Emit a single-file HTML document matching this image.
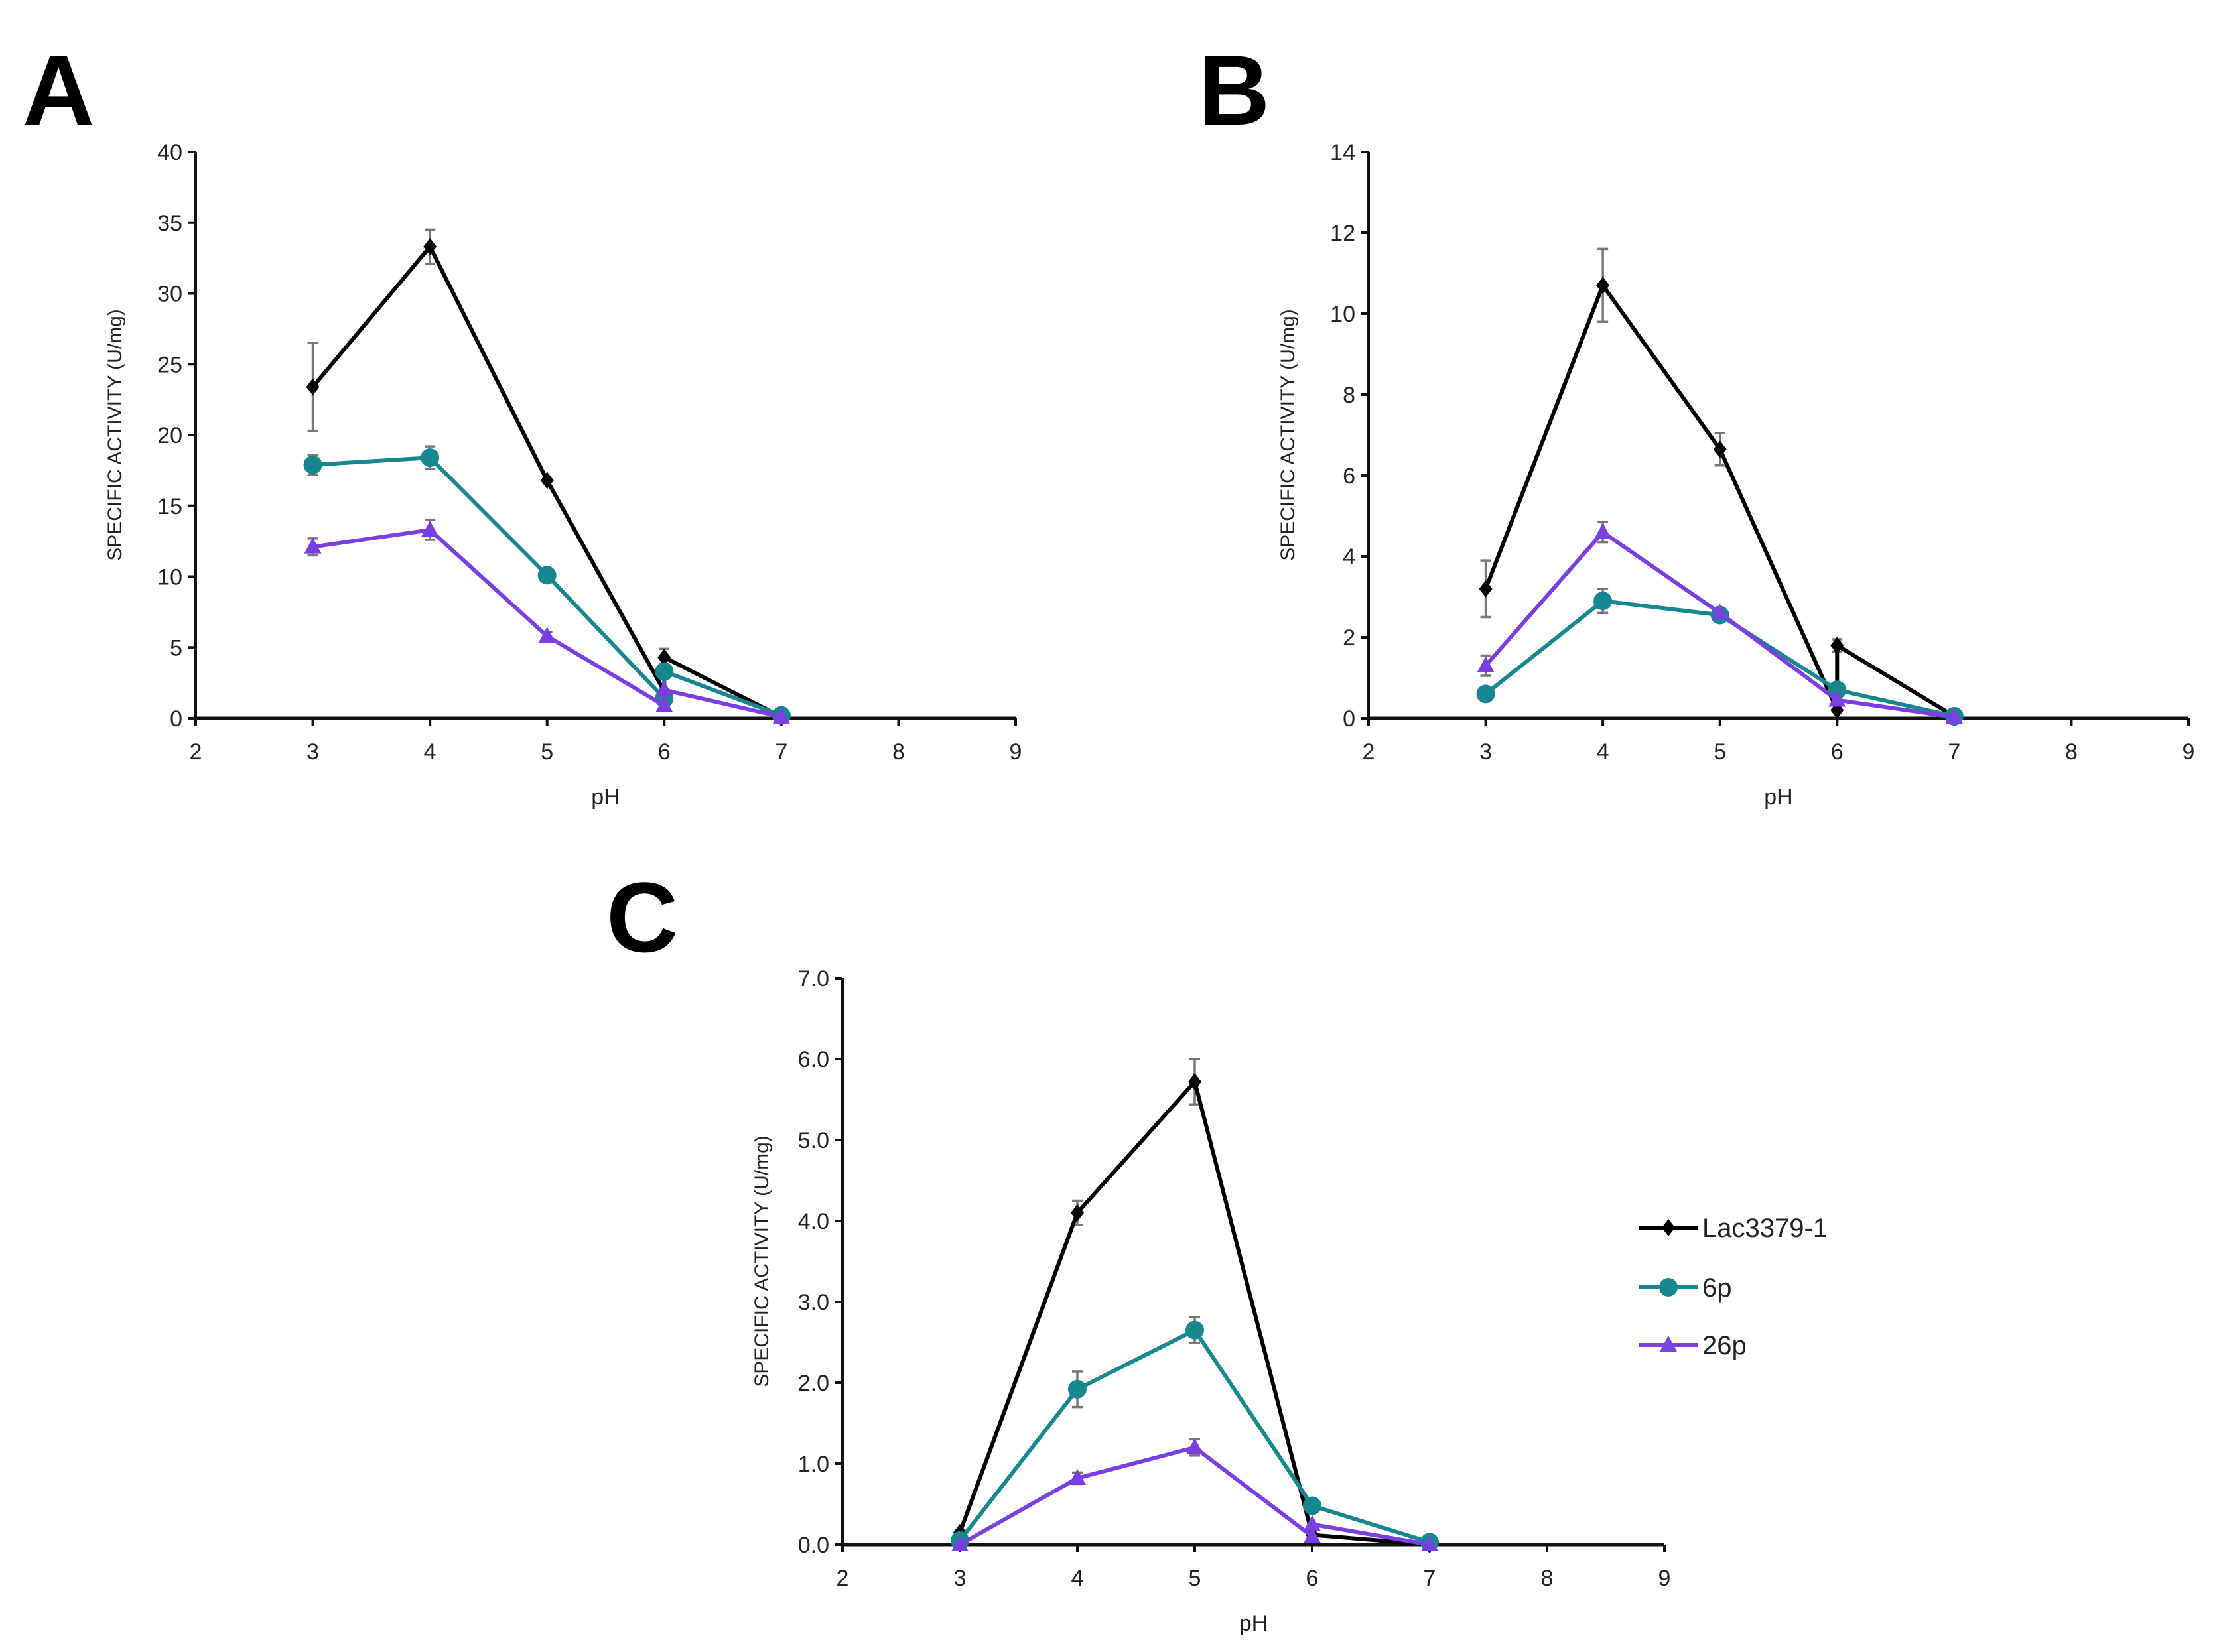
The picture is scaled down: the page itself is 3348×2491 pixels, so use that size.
<!DOCTYPE html>
<html><head><meta charset="utf-8"><style>
html,body{margin:0;padding:0;background:#fff}
svg{display:block}
text{font-family:"Liberation Sans Narrow","Liberation Sans",sans-serif;fill:#222}
</style></head><body>
<svg id="fig" xmlns="http://www.w3.org/2000/svg" width="3348" height="2491" viewBox="0 0 3348 2491"></svg>
<script>
// Panel A data
const xA_lac=[3,4,5,6,6,7]; const yA_lac=[23.4,33.3,16.8,1.9,4.3,0.1]; const eA_lac=[3.1,1.2,0,0,0.6,0];
const xA_6p=[3,4,5,6,6,7]; const yA_6p=[17.9,18.4,10.1,1.4,3.3,0.2]; const eA_6p=[0.7,0.8,0.3,0,0.3,0];
const xA_26p=[3,4,5,6,6,7]; const yA_26p=[12.1,13.3,5.8,0.9,2.0,0.1]; const eA_26p=[0.6,0.7,0.3,0,0,0];
// Panel B data
const xB_lac=[3,4,5,6,6,7]; const yB_lac=[3.2,10.7,6.65,0.2,1.8,0.05]; const eB_lac=[0.7,0.9,0.4,0,0.15,0];
const xB_6p=[3,4,5,6,7]; const yB_6p=[0.6,2.9,2.55,0.7,0.05]; const eB_6p=[0,0.3,0.1,0,0];
const xB_26p=[3,4,5,6,7]; const yB_26p=[1.3,4.6,2.6,0.45,0.03]; const eB_26p=[0.25,0.25,0,0,0];
// Panel C data
const xC_lac=[3,4,5,6,7]; const yC_lac=[0.15,4.1,5.72,0.12,0.0]; const eC_lac=[0,0.15,0.28,0,0];
const xC_6p=[3,4,5,6,7]; const yC_6p=[0.05,1.92,2.65,0.48,0.03]; const eC_6p=[0,0.22,0.16,0,0];
const xC_26p=[3,4,5,6,6,7]; const yC_26p=[0.0,0.82,1.2,0.1,0.25,0.0]; const eC_26p=[0,0.07,0.1,0,0,0];
const xTicks=[2,3,4,5,6,7,8,9];
const yTicksA=[0,5,10,15,20,25,30,35,40];
const yTicksB=[0,2,4,6,8,10,12,14];
const yTicksC=[0,1,2,3,4,5,6,7];
const seriesNames=["Lac3379-1","6p","26p"];

const NS="http://www.w3.org/2000/svg";
const svg=document.getElementById('fig');
function mk(tag,attrs,parent,txt){const e=document.createElementNS(NS,tag);for(const k in attrs)e.setAttribute(k,attrs[k]);if(txt!==undefined)e.textContent=txt;(parent||svg).appendChild(e);return e;}
const COL={lac:"#000000",p6:"#16868f",p26:"#7a3fe0"};

function marker(g,kind,cx,cy,col){
  let m;
  if(kind==='diamond'){m=mk('polygon',{points:`${cx},${cy-13} ${cx+10},${cy} ${cx},${cy+13} ${cx-10},${cy}`,fill:col},g);}
  else if(kind==='circle'){m=mk('circle',{cx:cx,cy:cy,r:14,fill:col},g);}
  else {m=mk('polygon',{points:`${cx},${cy-14} ${cx+13},${cy+10} ${cx-13},${cy+10}`,fill:col},g);}
  
  
}

function panel(o){
  const g=mk('g',{});
  
  
  const sx=v=>o.x0+(v-2)*(o.x1-o.x0)/7;
  const sy=v=>o.y0-(v)*(o.y0-o.y1)/o.ymax;
  const L=mk('text',{x:o.lx,y:o.ly,'font-size':150,'font-weight':'bold',style:'font-family:"Liberation Sans",sans-serif;fill:#000'},g,o.letter);
  
  
  const ya=mk('line',{x1:o.x0,y1:o.y1,x2:o.x0,y2:o.y0,stroke:'#111','stroke-width':4},g);
  
  const xa=mk('line',{x1:o.x0,y1:o.y0,x2:o.x1,y2:o.y0,stroke:'#111','stroke-width':5},g);
  
  o.yt.forEach(v=>{
    mk('line',{x1:o.x0-11,y1:sy(v),x2:o.x0,y2:sy(v),stroke:'#111','stroke-width':4},g);
    const t=mk('text',{x:o.x0-20,y:sy(v)+12,'font-size':34,'text-anchor':'end'},g,o.fmt(v));
    
  });
  xTicks.forEach(v=>{
    mk('line',{x1:sx(v),y1:o.y0,x2:sx(v),y2:o.y0+11,stroke:'#111','stroke-width':4},g);
    const t=mk('text',{x:sx(v),y:o.y0+62,'font-size':34,'text-anchor':'middle'},g,String(v));
    
  });
  const yc=(o.y0+o.y1)/2, xt=o.x0-112;
  const yt=mk('text',{x:xt,y:yc,'font-size':30,'text-anchor':'middle',transform:`rotate(-90 ${xt} ${yc})`,style:'font-family:"Liberation Sans",sans-serif;fill:#222'},g,'SPECIFIC ACTIVITY (U/mg)');
  
  const xtl=mk('text',{x:(o.x0+o.x1)/2,y:o.y0+130,'font-size':34,'text-anchor':'middle'},g,'pH');
  
  o.series.forEach(s=>{
    const sg=mk('g',{},g);
    
    s.e.forEach((e,i)=>{ if(e>0){
      const cx=sx(s.x[i]),a=sy(s.y[i]+e),b=sy(s.y[i]-e);
      mk('line',{x1:cx,y1:a,x2:cx,y2:b,stroke:'#777','stroke-width':3.5},sg);
      mk('line',{x1:cx-8,y1:a,x2:cx+8,y2:a,stroke:'#777','stroke-width':3.5},sg);
      mk('line',{x1:cx-8,y1:b,x2:cx+8,y2:b,stroke:'#777','stroke-width':3.5},sg);
    }});
    const pts=s.x.map((v,i)=>sx(v)+','+sy(s.y[i])).join(' ');
    const pl=mk('polyline',{points:pts,fill:'none',stroke:s.col,'stroke-width':6,'stroke-linejoin':'round'},sg);
    
    s.x.forEach((v,i)=>marker(sg,s.m,sx(v),sy(s.y[i]),s.col));
  });
}
const f0=v=>String(v), f1=v=>v.toFixed(1);
panel({letter:'A',lx:34,ly:188,x0:295,x1:1531,y0:1083,y1:229,ymax:40,yt:yTicksA,fmt:f0,series:[
 {name:'lac3379-1',x:xA_lac,y:yA_lac,e:eA_lac,col:COL.lac,m:'diamond'},
 {name:'6p',x:xA_6p,y:yA_6p,e:eA_6p,col:COL.p6,m:'circle'},
 {name:'26p',x:xA_26p,y:yA_26p,e:eA_26p,col:COL.p26,m:'triangle'}]});
panel({letter:'B',lx:1806,ly:188,x0:2063,x1:3299,y0:1083,y1:229,ymax:14,yt:yTicksB,fmt:f0,series:[
 {name:'lac3379-1',x:xB_lac,y:yB_lac,e:eB_lac,col:COL.lac,m:'diamond'},
 {name:'6p',x:xB_6p,y:yB_6p,e:eB_6p,col:COL.p6,m:'circle'},
 {name:'26p',x:xB_26p,y:yB_26p,e:eB_26p,col:COL.p26,m:'triangle'}]});
panel({letter:'C',lx:914,ly:1435,x0:1270,x1:2509,y0:2329,y1:1475,ymax:7,yt:yTicksC,fmt:f1,series:[
 {name:'lac3379-1',x:xC_lac,y:yC_lac,e:eC_lac,col:COL.lac,m:'diamond'},
 {name:'6p',x:xC_6p,y:yC_6p,e:eC_6p,col:COL.p6,m:'circle'},
 {name:'26p',x:xC_26p,y:yC_26p,e:eC_26p,col:COL.p26,m:'triangle'}]});
const lg=mk('g',{});

const legCols=[COL.lac,COL.p6,COL.p26], legM=['diamond','circle','triangle'], legY=[1851,1941,2028];
seriesNames.forEach((n,i)=>{
  const eg=mk('g',{},lg);
  
  mk('line',{x1:2470,y1:legY[i],x2:2560,y2:legY[i],stroke:legCols[i],'stroke-width':6},eg);
  marker(eg,legM[i],2515,legY[i],legCols[i]);
  mk('text',{x:2566,y:legY[i]+14,'font-size':40},eg,n);
});
</script>
</body></html>
